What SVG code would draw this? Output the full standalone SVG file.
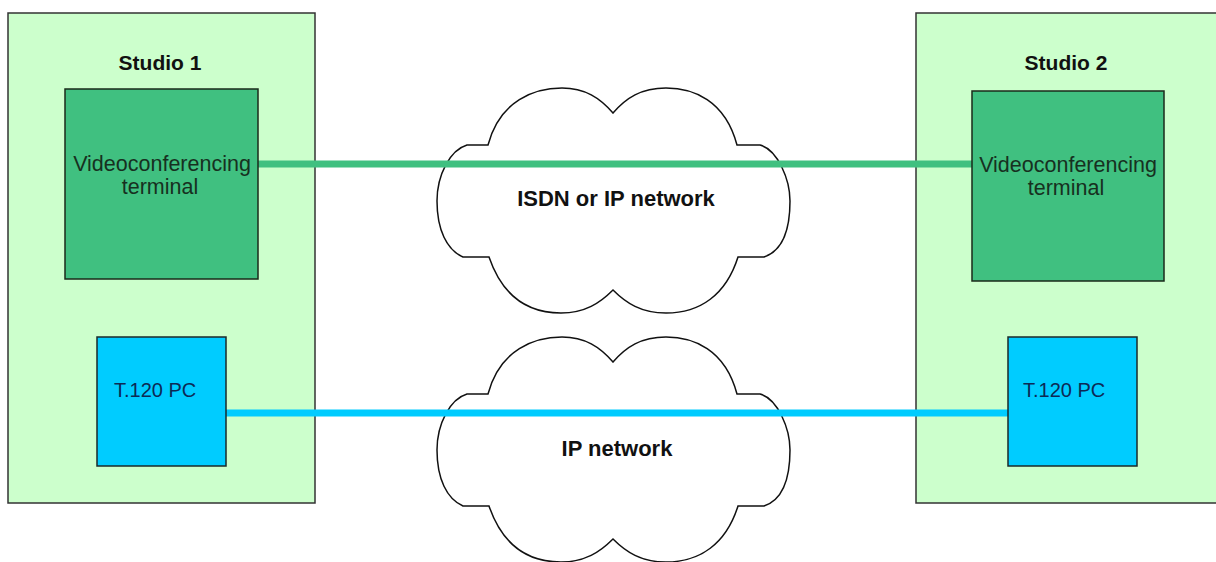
<svg xmlns="http://www.w3.org/2000/svg" width="1216" height="562" viewBox="0 0 1216 562">
  <style>
    .studio { fill: #ccffcc; stroke: #333333; stroke-width: 1.5; }
    .vc { fill: #40c080; stroke: #1a2a1a; stroke-width: 1.5; }
    .pc { fill: #00ccff; stroke: #1a2a2a; stroke-width: 1.5; }
    .cloud { fill: #ffffff; stroke: #111111; stroke-width: 1.5; }
    .title { font-family: "Liberation Sans", Arial, sans-serif; font-weight: bold; font-size: 21px; fill: #111111; text-anchor: middle; }
    .vctext { font-family: "Liberation Sans", Arial, sans-serif; font-size: 21.5px; fill: #17301f; text-anchor: middle; }
    .pctext { font-family: "Liberation Sans", Arial, sans-serif; font-size: 20px; fill: #0d2a55; }
    .netlabel { font-family: "Liberation Sans", Arial, sans-serif; font-weight: bold; font-size: 22px; fill: #111111; text-anchor: middle; }
    .link-green { stroke: #40c080; stroke-width: 7; fill: none; }
    .link-blue { stroke: #00ccff; stroke-width: 7; fill: none; }
  </style>
  <defs>
    <path id="cloudShape" d="M488,145 C500,100 535,88 562,88 C585,88 600,98 613,113 C626,98 641,88 666,88 C693,88 725,100 737,145 L760,145 C778,150 790,180 790,201 C790,225 785,250 764,257 L738,257 C726,295 700,313 666,313 C641,313 626,303 613,290 C600,303 585,313 561,313 C527,313 502,295 489,257 L463,257 C447,250 437,230 437,201 C437,175 450,150 467,145 Z"/>
  </defs>
  <rect width="1216" height="562" fill="#ffffff"/>

  <g id="studio1">
    <rect class="studio" x="8" y="13" width="307" height="490"/>
    <text class="title" x="160" y="70">Studio 1</text>
  </g>
  <g id="studio2">
    <rect class="studio" x="916" y="13" width="310" height="490"/>
    <text class="title" x="1066" y="70">Studio 2</text>
  </g>

  <g id="cloud-isdn">
    <use href="#cloudShape" class="cloud"/>
    <text class="netlabel" x="616" y="206">ISDN or IP network</text>
  </g>
  <g id="cloud-ip">
    <use href="#cloudShape" class="cloud" transform="translate(0,249)"/>
    <text class="netlabel" x="617" y="456">IP network</text>
  </g>

  <g id="connectors">
    <line class="link-green" x1="258" y1="164" x2="972" y2="164"/>
    <line class="link-blue" x1="226" y1="413" x2="1008" y2="413"/>
  </g>

  <g id="vc1">
    <rect class="vc" x="65" y="89" width="193" height="190"/>
    <text class="vctext" x="162" y="171">Videoconferencing</text>
    <text class="vctext" x="160" y="194">terminal</text>
  </g>
  <g id="vc2">
    <rect class="vc" x="972" y="91" width="192" height="190"/>
    <text class="vctext" x="1068" y="172">Videoconferencing</text>
    <text class="vctext" x="1066" y="195">terminal</text>
  </g>
  <g id="pc1">
    <rect class="pc" x="97" y="337" width="129" height="129"/>
    <text class="pctext" x="114" y="397">T.120 PC</text>
  </g>
  <g id="pc2">
    <rect class="pc" x="1008" y="337" width="129" height="129"/>
    <text class="pctext" x="1023" y="397">T.120 PC</text>
  </g>
</svg>
